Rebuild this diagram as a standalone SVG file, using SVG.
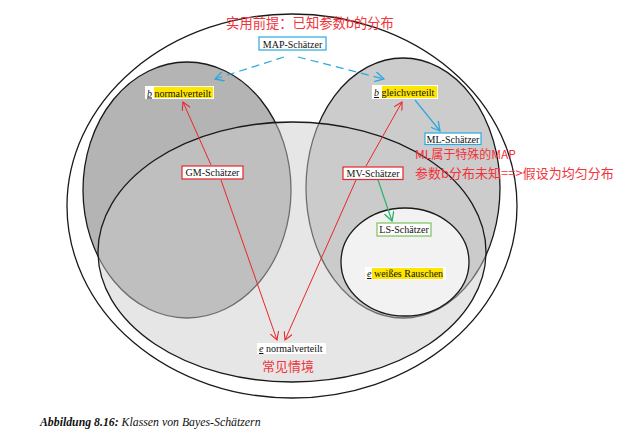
<svg xmlns="http://www.w3.org/2000/svg" width="619" height="438" viewBox="0 0 619 438">
<style>
.ell{stroke:#1a1a1a;stroke-width:1.3}
.lbl{font-family:"Liberation Serif",serif;font-size:10px;fill:#111}
.box{fill:#fff;stroke-width:1.2}
.cn{font-family:"Noto Sans CJK SC",sans-serif;fill:#f2333a}
.red{stroke:#e8262b;stroke-width:1;fill:none}
.cy{stroke:#29a9df;stroke-width:1.2;fill:none}
.gr{stroke:#2bb36a;stroke-width:1.2;fill:none}
.hl{fill:#ffe600}
</style>
<defs>
<marker id="ar" viewBox="0 0 10 10" refX="9" refY="5" markerWidth="9" markerHeight="9" orient="auto" markerUnits="userSpaceOnUse"><path d="M0,0 L9,5 L0,10" fill="none" stroke="#e8262b" stroke-width="1.2"/></marker>
<marker id="ac" viewBox="0 0 10 10" refX="9" refY="5" markerWidth="10" markerHeight="10" orient="auto" markerUnits="userSpaceOnUse"><path d="M0,0 L9,5 L0,10" fill="none" stroke="#29a9df" stroke-width="1.3"/></marker>
<marker id="ag" viewBox="0 0 10 10" refX="9" refY="5" markerWidth="10" markerHeight="10" orient="auto" markerUnits="userSpaceOnUse"><path d="M0,0 L9,5 L0,10" fill="none" stroke="#2bb36a" stroke-width="1.3"/></marker>
</defs>
<rect width="619" height="438" fill="#fff"/>
<g id="outer"><ellipse class="ell" cx="292" cy="206" rx="225" ry="192" fill="#fff"/></g>
<g id="gm-region"><ellipse class="ell" cx="187" cy="190" rx="104" ry="128" fill="#b4b4b4"/></g>
<g id="ml-region"><ellipse class="ell" cx="403" cy="188" rx="97" ry="130" fill="#cccccc"/></g>
<g id="mv-region"><ellipse class="ell" cx="292" cy="252" rx="194" ry="130" fill="#cbcbcb" fill-opacity="0.48"/></g>
<g id="ls-region"><ellipse class="ell" cx="405" cy="262" rx="64" ry="54" fill="#f2f2f2"/></g>

<g id="connectors">
<line class="cy" x1="284" y1="57" x2="215" y2="79" stroke-dasharray="8,5" marker-end="url(#ac)"/>
<line class="cy" x1="298" y1="57" x2="384" y2="79" stroke-dasharray="8,5" marker-end="url(#ac)"/>
<line class="cy" x1="415" y1="100" x2="440" y2="131" marker-end="url(#ac)"/>
<line class="red" x1="211" y1="165" x2="183" y2="102" marker-end="url(#ar)"/>
<line class="red" x1="221" y1="180" x2="277" y2="340" marker-end="url(#ar)"/>
<line class="red" x1="366" y1="166" x2="402" y2="102" marker-end="url(#ar)"/>
<line class="red" x1="356" y1="180" x2="285" y2="340" marker-end="url(#ar)"/>
<line class="gr" x1="378" y1="180" x2="392" y2="221" marker-end="url(#ag)"/>
</g>

<g id="title-note"><text class="cn" x="310" y="28" font-size="13.3" text-anchor="middle">实用前提：已知参数b的分布</text></g>
<g id="map"><rect class="box" x="259" y="37" width="67" height="13" stroke="#29a9df"/><text class="lbl" x="292.5" y="47.5" text-anchor="middle">MAP-Schätzer</text></g>
<g id="b-normal"><rect x="145" y="86" width="69" height="13" fill="#fff"/><rect class="hl" x="154" y="87" width="59" height="11"/><text class="lbl" x="147" y="96.5"><tspan font-style="italic" text-decoration="underline">b</tspan> normalverteilt</text></g>
<g id="b-gleich"><rect x="372" y="85" width="66" height="14" fill="#fff"/><rect class="hl" x="382" y="86" width="55" height="12"/><text class="lbl" x="374" y="96"><tspan font-style="italic" text-decoration="underline">b</tspan> gleichverteilt</text></g>
<g id="ml"><rect class="box" x="425" y="133" width="56" height="11.5" stroke="#29a9df"/><text class="lbl" x="453" y="142.5" text-anchor="middle">ML-Schätzer</text></g>
<g id="ml-note"><text class="cn" x="415" y="158.5" font-size="12">ML属于特殊的MAP</text><text class="cn" x="415" y="178" font-size="13">参数b分布未知==&gt;假设为均匀分布</text></g>
<g id="gm"><rect class="box" x="182" y="166" width="61" height="13" stroke="#e8262b"/><text class="lbl" x="212.5" y="176" text-anchor="middle">GM-Schätzer</text></g>
<g id="mv"><rect class="box" x="343" y="167" width="60" height="12.5" stroke="#e8262b"/><text class="lbl" x="373" y="177" text-anchor="middle">MV-Schätzer</text></g>
<g id="ls"><rect class="box" x="377" y="223" width="54" height="13" stroke="#7cc25a"/><text class="lbl" x="404" y="233" text-anchor="middle">LS-Schätzer</text></g>
<g id="e-white"><rect x="365" y="267" width="81" height="12.5" fill="#fff"/><rect class="hl" x="372" y="268" width="71" height="11"/><text class="lbl" x="367" y="277"><tspan font-style="italic" text-decoration="underline">e</tspan> weißes Rauschen</text></g>
<g id="e-normal"><rect x="257" y="343" width="69" height="11" fill="#fff"/><text class="lbl" x="259" y="352"><tspan font-style="italic" text-decoration="underline">e</tspan> normalverteilt</text></g>
<g id="common-note"><text class="cn" x="288" y="371" font-size="13" text-anchor="middle">常见情境</text></g>
<g id="caption"><text x="40" y="426" font-family="Liberation Serif,serif" font-size="11.8" font-style="italic" fill="#111"><tspan font-weight="bold">Abbildung 8.16:</tspan> Klassen von Bayes-Schätzern</text></g>
</svg>
